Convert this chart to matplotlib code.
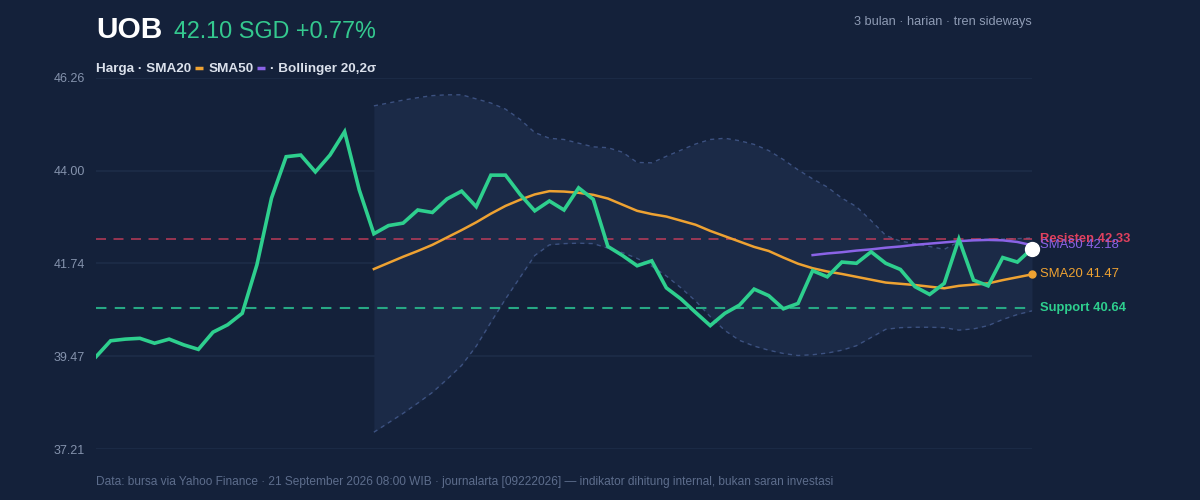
import numpy as np
import matplotlib
matplotlib.use('Agg')
import matplotlib.pyplot as plt

# ---- data ----
price = [39.46, 39.85, 39.89, 39.91, 39.79, 39.89, 39.75, 39.64, 40.06, 40.24,
         40.52, 41.70, 43.33, 44.34, 44.38, 43.97, 44.38, 44.95, 43.53, 42.46,
         42.66, 42.72, 43.04, 42.98, 43.31, 43.50, 43.12, 43.89, 43.89, 43.42,
         43.02, 43.26, 43.04, 43.58, 43.30, 42.15, 41.93, 41.68, 41.80, 41.14,
         40.87, 40.54, 40.22, 40.52, 40.72, 41.11, 40.95, 40.63, 40.76, 41.56,
         41.41, 41.77, 41.74, 42.02, 41.74, 41.59, 41.17, 40.98, 41.25, 42.33,
         41.33, 41.19, 41.88, 41.77, 42.10]

sma20 = [41.60, 41.75, 41.90, 42.04, 42.19, 42.37, 42.55, 42.74, 42.95, 43.14,
         43.29, 43.42, 43.50, 43.49, 43.46, 43.41, 43.32, 43.17, 43.02, 42.94,
         42.88, 42.78, 42.68, 42.53, 42.40, 42.27, 42.14, 42.04, 41.88, 41.73,
         41.62, 41.54, 41.48, 41.41, 41.34, 41.27, 41.24, 41.21, 41.17, 41.13,
         41.19, 41.22, 41.25, 41.33, 41.40, 41.47]
sma20_start = 19

sma50 = [41.94, 41.98, 42.01, 42.05, 42.08, 42.12, 42.15, 42.19, 42.22, 42.25,
         42.28, 42.30, 42.31, 42.30, 42.26, 42.18]
sma50_start = 49

bb_upper = [45.58, 45.65, 45.72, 45.78, 45.83, 45.85, 45.85, 45.75, 45.65, 45.50,
            45.25, 44.93, 44.79, 44.76, 44.67, 44.58, 44.56, 44.45, 44.20, 44.19,
            44.35, 44.50, 44.65, 44.76, 44.79, 44.73, 44.64, 44.49, 44.27, 44.02,
            43.80, 43.60, 43.33, 43.12, 42.78, 42.42, 42.28, 42.22, 42.15, 42.08,
            42.27, 42.32, 42.33, 42.33, 42.34, 42.36]
bb_lower = [37.62, 37.85, 38.08, 38.33, 38.59, 38.91, 39.25, 39.72, 40.30, 40.87,
            41.40, 41.93, 42.19, 42.22, 42.23, 42.22, 42.11, 42.00, 41.86, 41.67,
            41.43, 41.14, 40.82, 40.44, 40.10, 39.86, 39.72, 39.62, 39.54, 39.49,
            39.51, 39.55, 39.62, 39.73, 39.93, 40.13, 40.17, 40.18, 40.18, 40.17,
            40.11, 40.14, 40.22, 40.37, 40.49, 40.58]

resistance = 42.33
support = 40.64
yticks = [37.21, 39.47, 41.74, 44.00, 46.26]

# ---- colours ----
BG = "#14213a"
BAND = "#1b2a47"
GRID = "#1d2c48"
GREEN = "#2ecf8e"
ORANGE = "#eea232"
PURPLE = "#8a63e6"
RED = "#e0405e"
TICK = "#8593ad"

plt.rcParams['font.family'] = ['Liberation Sans', 'DejaVu Sans']

fig = plt.figure(figsize=(12, 5), dpi=100, facecolor=BG)
ax = fig.add_axes([96/1200, 1-449/500, (1032-96)/1200, (449-78)/500])
ax.set_facecolor(BG)

x = np.arange(len(price))
xb = np.arange(sma20_start, sma20_start + len(bb_upper))
x20 = np.arange(sma20_start, sma20_start + len(sma20))
x50 = np.arange(sma50_start, sma50_start + len(sma50))

# bollinger band
ax.fill_between(xb, bb_lower, bb_upper, color=BAND, lw=0, zorder=1)
ax.plot(xb, bb_upper, color="#3c5180", lw=1, ls=(0, (3, 3)), zorder=2)
ax.plot(xb, bb_lower, color="#3c5180", lw=1, ls=(0, (3, 3)), zorder=2)

# support / resistance
ax.axhline(resistance, color=RED, lw=1.2, alpha=0.75, ls=(0, (6, 4.5)), zorder=2)
ax.axhline(support, color="#27a884", lw=1.5, ls=(0, (5, 4)), zorder=2)

# moving averages
ax.plot(x20, sma20, color=ORANGE, lw=1.8, zorder=3)
ax.plot(x50, sma50, color=PURPLE, lw=1.8, zorder=3)
ax.plot(x20[-1], sma20[-1], 'o', color=ORANGE, ms=5, clip_on=False, zorder=5)

# price
ax.plot(x, price, color=GREEN, lw=2.6, zorder=4, solid_joinstyle='miter')
ax.plot(x[-1], price[-1], 'o', color="white", ms=10, clip_on=False, zorder=6)

ax.set_xlim(0, len(price) - 1)
ax.set_ylim(yticks[0], yticks[-1])
ax.set_yticks(yticks)
ax.set_yticklabels([f"{v:.2f}" for v in yticks])
ax.tick_params(axis='y', length=0, pad=8, labelsize=9, labelcolor=TICK)
ax.set_xticks([])
for s in ax.spines.values():
    s.set_visible(False)
ax.grid(axis='y', color=GRID, lw=1.2)
ax.set_axisbelow(True)

# right labels
def rlabel(val, text, color, bold=False, dy=0):
    ax.annotate(text, xy=(1, val), xycoords=('axes fraction', 'data'),
                xytext=(6, dy), textcoords='offset points', va='center', ha='left',
                color=color, fontsize=9.4, fontweight='bold' if bold else 'normal',
                annotation_clip=False)

rlabel(resistance, "Resisten 42.33", RED, bold=True)
rlabel(sma50[-1], "SMA50 42.18", PURPLE)
rlabel(sma20[-1], "SMA20 41.47", ORANGE)
rlabel(support, "Support 40.64", GREEN, bold=True)

# title
fig.text(96/1200, 1-38/500, "UOB", color="white", fontsize=21.5, fontweight='bold', va='baseline')
fig.text(174/1200, 1-38/500, "42.10 SGD +0.77%", color="#34c98f", fontsize=16.8, va='baseline')
fig.text(1032/1200, 1-25/500, "3 bulan · harian · tren sideways", color="#8e9bb4",
         fontsize=9.2, ha='right', va='baseline')

# legend row
fig.canvas.draw()
r = fig.canvas.get_renderer()
cx = 96
base = 1 - 72/500
leg_col = "#dbe1ec"
pieces = [("Harga · SMA20", None), (None, ORANGE), ("SMA50", None), (None, PURPLE),
          ("· Bollinger 20,2σ", None)]
for txt, col in pieces:
    if txt is not None:
        t = fig.text(cx/1200, base, txt, color=leg_col, fontsize=9.7, fontweight='bold',
                     va='baseline')
        w = t.get_window_extent(r).width
        cx += w + 4
    else:
        fig.add_artist(plt.Line2D([cx/1200, (cx+8)/1200], [1-67.5/500, 1-67.5/500],
                                  color=col, lw=2.5, solid_capstyle='butt',
                                  transform=fig.transFigure))
        cx += 8 + 5

fig.text(96/1200, 1-485/500,
         "Data: bursa via Yahoo Finance · 21 September 2026 08:00 WIB · journalarta [09222026] — indikator dihitung internal, bukan saran investasi",
         color="#5d6d8c", fontsize=8.6, va='baseline')

fig.savefig("out.png", dpi=100, facecolor=BG)
